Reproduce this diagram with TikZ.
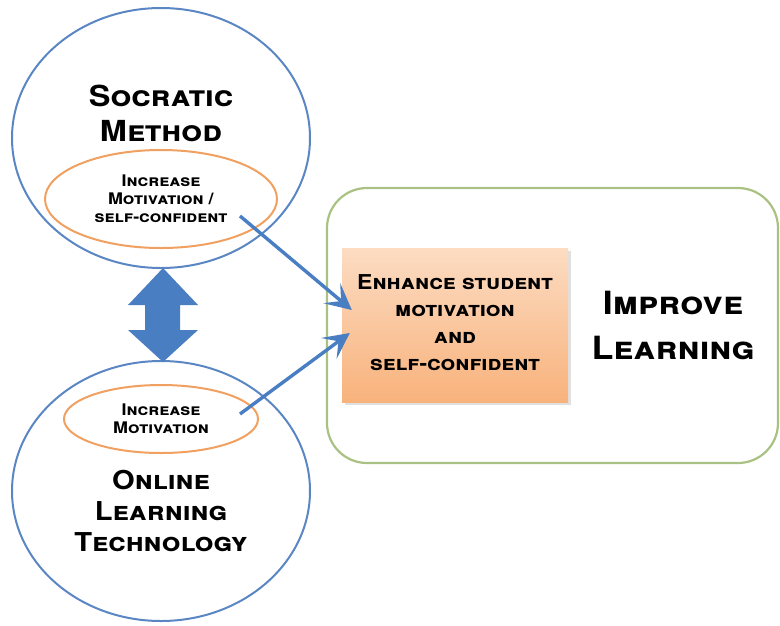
\documentclass[tikz,border=0pt]{standalone}
\usepackage{fontspec}
\setmainfont[FakeStretch=1.12]{TeX Gyre Heros}
\usetikzlibrary{arrows.meta,shapes.geometric,calc}
\definecolor{cblue}{HTML}{5B86C4}
\definecolor{ablue}{HTML}{4A7EC2}
\definecolor{corange}{HTML}{F0A060}
\definecolor{cgreen}{HTML}{A9C283}
\definecolor{btop}{HTML}{FCDCC2}
\definecolor{bbot}{HTML}{F8B27C}
\tikzset{
  bigcirc/.style={ellipse, draw=cblue, line width=2pt, minimum width=298pt, minimum height=260pt, inner sep=0pt},
  smallell/.style={ellipse, draw=corange, line width=2pt, inner sep=0pt},
  bigtxt/.style={font=\bfseries\fontsize{29}{33}\selectfont, align=center, inner sep=0pt},
  smalltxt/.style={font=\bfseries\fontsize{16}{18}\selectfont, align=center, inner sep=0pt},
  midtxt/.style={font=\bfseries\fontsize{20.5}{27}\selectfont, align=center, inner sep=0pt},
  conn/.style={ablue, line width=3.4pt, -{Stealth[length=26pt,width=26pt,inset=12pt]}},
}
\begin{document}
\begin{tikzpicture}[x=1pt,y=-1pt]
\useasboundingbox (0,0) rectangle (780,625);
% containers
\draw[cgreen, line width=2.2pt, rounded corners=40pt] (327,188) rectangle (778,463);
\node[bigcirc] (c1) at (161,138) {};
\node[bigcirc] (c2) at (161,491) {};
\node[smallell, minimum width=232pt, minimum height=98pt] (o1) at (161,199) {};
\node[smallell, minimum width=194pt, minimum height=68pt] (o2) at (161,419) {};
% orange box with soft shadow
\fill[black!12] (345,251) rectangle (571,405);
\node[draw=none, top color=btop, bottom color=bbot, minimum width=226pt, minimum height=154pt, inner sep=0pt] (box) at (455,325) {};
% texts
\node[bigtxt] (t1) at (161,113) {\textsc{Socratic}\\[2pt]\textsc{Method}};
\node[smalltxt] (s1) at (161,199) {\textsc{Increase}\\\textsc{Motivation /}\\\textsc{self-confident}};
\node[smalltxt] (s2) at (161,419) {\textsc{Increase}\\\textsc{Motivation}};
\node[bigtxt, font=\bfseries\fontsize{26}{31}\selectfont] (t2) at (161,511) {\textsc{Online}\\\textsc{Learning}\\\textsc{Technology}};
\node[midtxt] (bt) at (455,323) {\textsc{Enhance student}\\\textsc{motivation}\\\textsc{and}\\\textsc{self-confident}};
\node[bigtxt, font=\bfseries\fontsize{32}{45}\selectfont] (il) at (673,325) {\textsc{Improve}\\\textsc{Learning}};
% double arrow
\fill[ablue] (163,268) -- (198,305) -- (180,305) -- (180,330) -- (198,330) -- (163,362)
  -- (128,330) -- (145,330) -- (145,305) -- (128,305) -- cycle;
% connectors
\coordinate (a1) at (240,216);
\coordinate (a2) at (240,414);
\coordinate (e1) at ($(box.west)+(10,-15)$);
\coordinate (e2) at ($(box.west)+(8,8)$);
\draw[conn] (a1) -- (e1);
\draw[conn] (a2) -- (e2);
\end{tikzpicture}
\end{document}
